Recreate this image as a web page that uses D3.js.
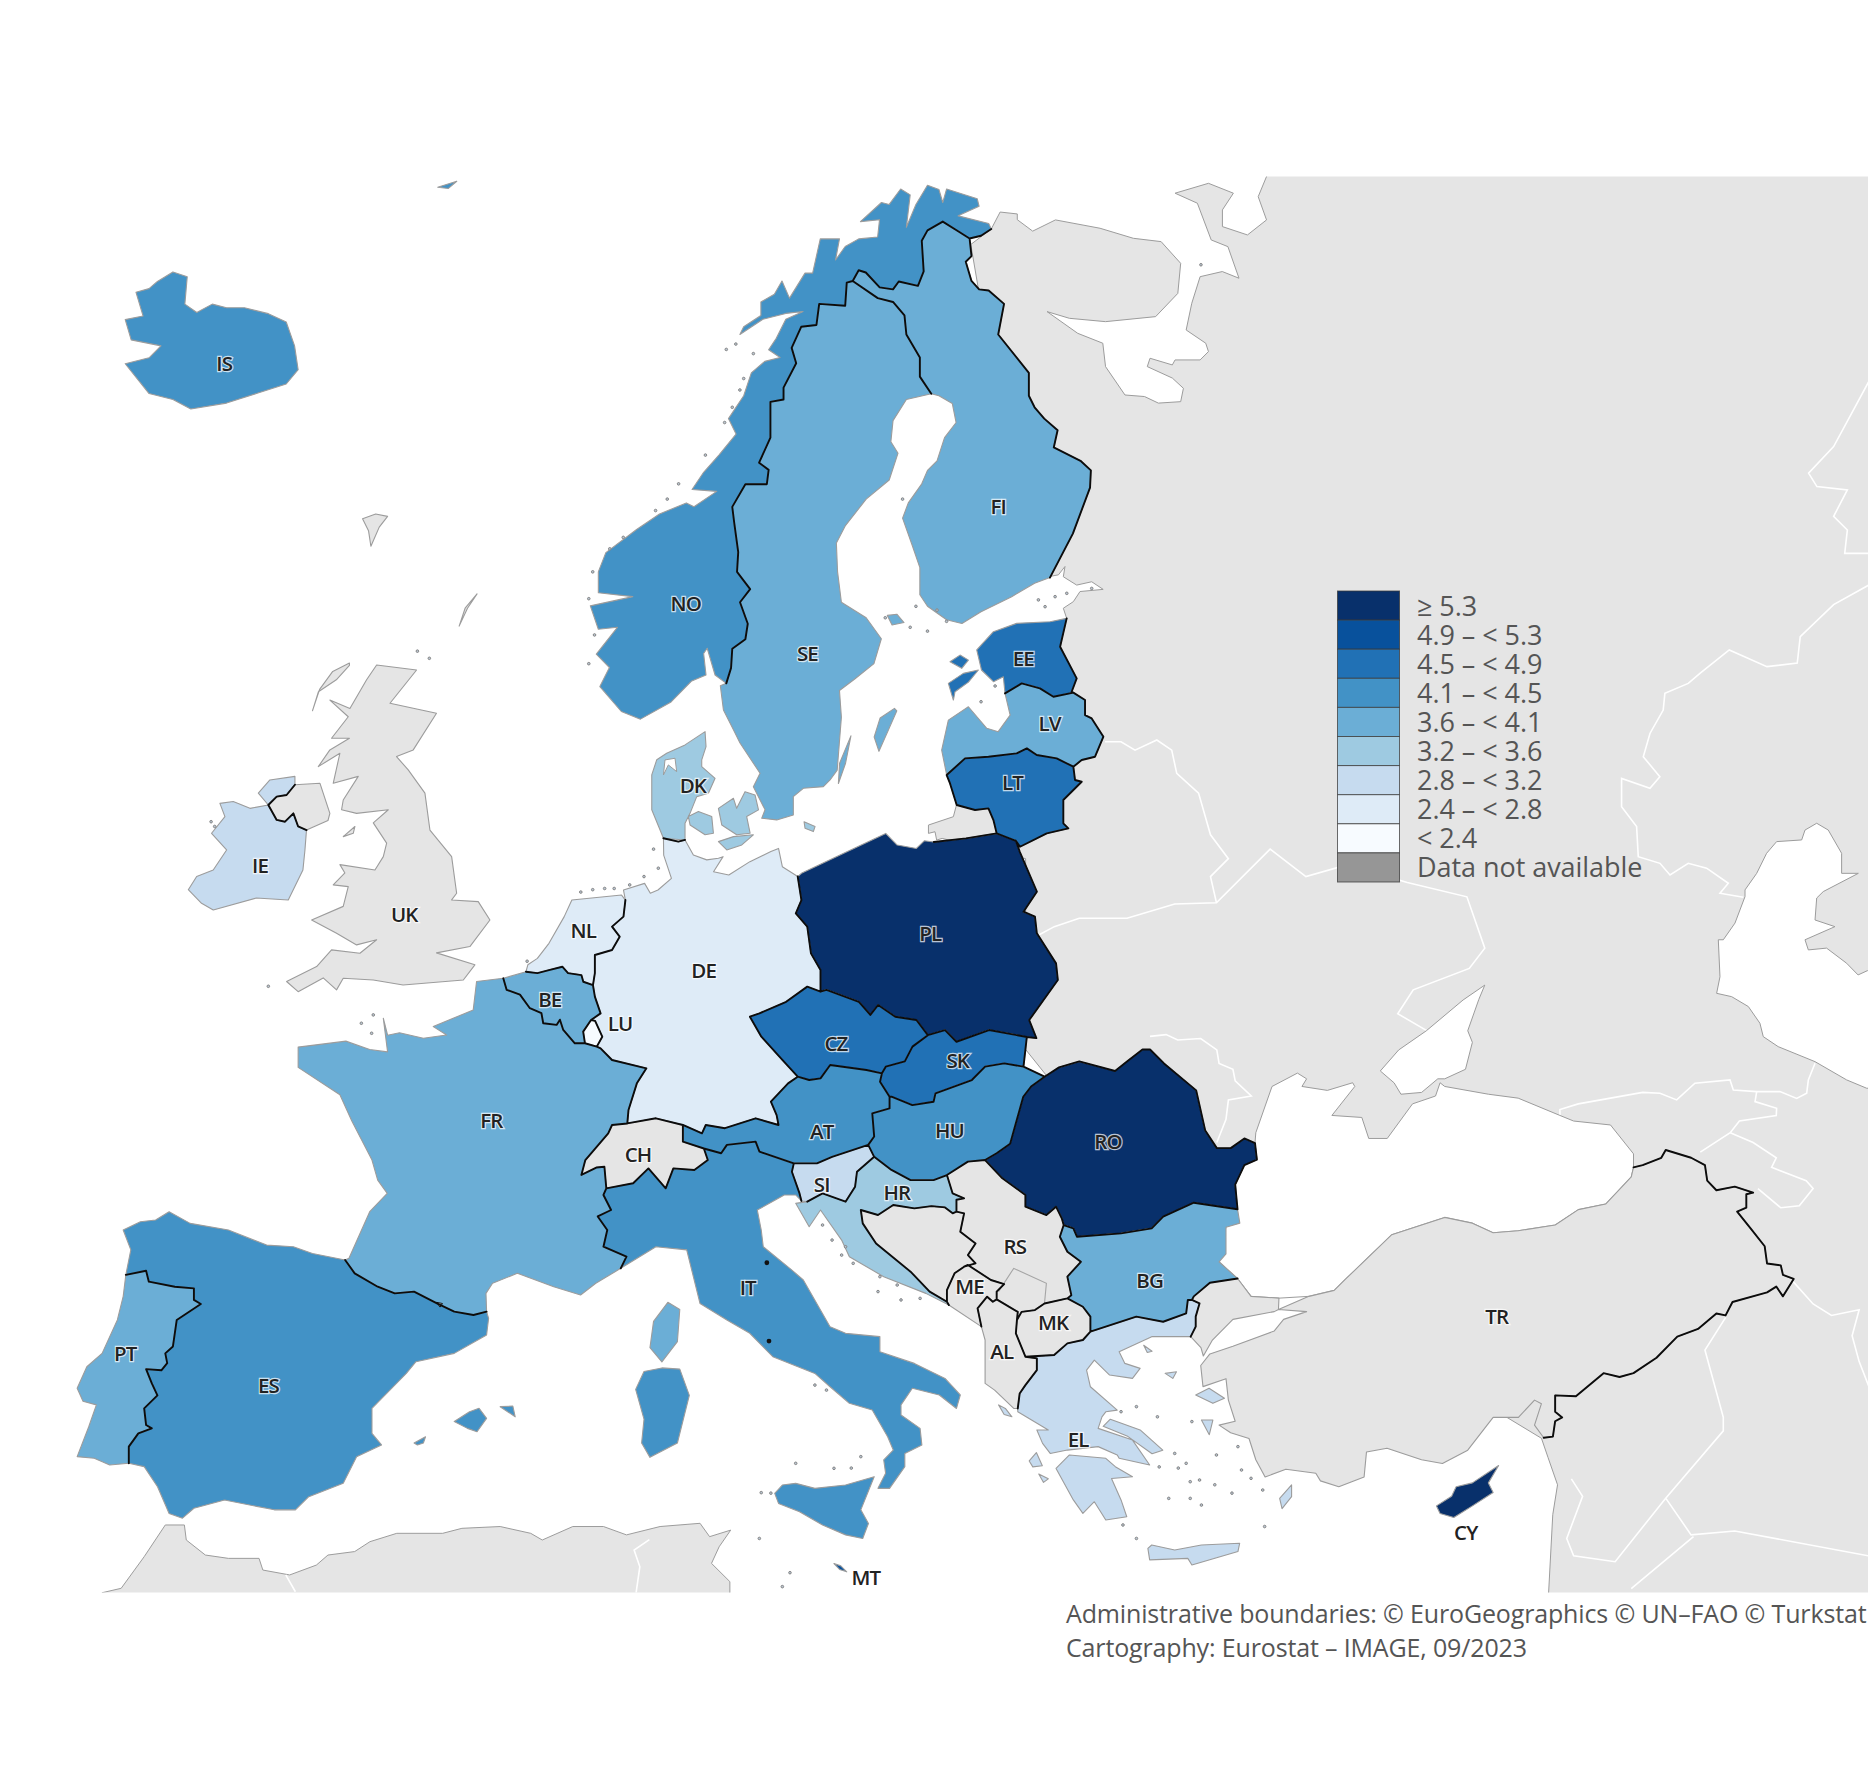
<!DOCTYPE html>
<html><head><meta charset="utf-8">
<script src="https://cdn.jsdelivr.net/npm/d3@7"></script>
<style>html,body{margin:0;padding:0;background:#fff}svg{display:block}</style>
</head><body><svg id="map" width="1870" height="1778"></svg>
<script>
// ---- chart values ----
const countryCodes = ["IS","NO","SE","FI","EE","LV","LT","DK","IE","NL","DE","BE","LU","PL","CZ","SK","FR","AT","HU","RO","SI","HR","BG","IT","PT","ES","EL","CY","MT"];
const countryValues = [4.3,4.3,3.9,3.9,4.7,3.9,4.7,3.4,3.0,2.6,2.6,3.9,2.2,5.6,4.7,4.7,3.9,4.3,4.3,5.6,3.0,3.4,3.9,4.3,3.9,4.3,3.0,5.6,5.1];
const noDataCodes = ["UK","CH","RS","BA","ME","MK","AL","TR"];
const classBreaks = [2.4,2.8,3.2,3.6,4.1,4.5,4.9,5.3];
const classColours = ["#f7fbff","#deebf7","#c6dbef","#9ecae1","#6baed6","#4292c6","#2171b5","#08519c","#08306b"];
const legendLabels = ["≥ 5.3","4.9 – < 5.3","4.5 – < 4.9","4.1 – < 4.5","3.6 – < 4.1","3.2 – < 3.6","2.8 – < 3.2","2.4 – < 2.8","< 2.4","Data not available"];
const legendColours = ["#08306b","#08519c","#2171b5","#4292c6","#6baed6","#9ecae1","#c6dbef","#deebf7","#f7fbff","#969696"];
const creditLines = ["Administrative boundaries: © EuroGeographics © UN–FAO © Turkstat","Cartography: Eurostat – IMAGE, 09/2023"];
const labelCodes = ["IS","NO","SE","FI","EE","LV","LT","DK","IE","UK","NL","DE","BE","LU","PL","CZ","SK","FR","AT","HU","RO","CH","SI","HR","RS","BG","ME","IT","MK","TR","PT","AL","ES","EL","CY","MT"];
const labelAnchors = [[188,305],[575,506],[677,548],[837,425],[858,552],[880,607],[849,656],[581,659],[218,726],[339,767],[489,780],[590,814],[461,838],[520,858],[780,783],[701,875],[803,889],[412,940],[689,949],[796,948],[929,957],[535,968],[689,993],[752,1000],[851,1045],[964,1074],[813,1079],[627,1080],[883,1109],[1255,1104],[105,1135],[840,1133],[225,1162],[904,1207],[1229,1285],[726,1323]];

// ---- map geometry, in planar map units (shared arcs) ----
const FR_ES=[[289.4,1056.5],[297.4,1067.7],[316.7,1078.9],[331,1084.5],[347.2,1083],[366.4,1092.9],[380.9,1099.8],[397,1102.6],[408,1099.8]];
const ES_PT=[[105.5,1069],[122.5,1065.5],[124.8,1074.7],[146.6,1078.9],[162.6,1080.3],[162.6,1090],[168.4,1093.4],[148.2,1106.8],[145,1129],[138.6,1134.8],[140.2,1143],[135.3,1149],[122.5,1148],[127.3,1160],[132,1170],[120.9,1180.9],[122.5,1194.9],[127.3,1197.7],[116,1201.9],[108,1213],[108,1227]];
const FR_BE=[[422,820.3],[424.8,830],[436,834],[444.3,845.4],[454,849.6],[455.5,858],[466.7,859.4],[469.5,855],[472.3,863.6],[482,874.8],[490.5,874.8]];
const FR_LU=[[490.5,874.8],[500.4,877.6]];
const BE_LU=[[495.6,855.3],[489,865],[490.5,874.8]];
const DE_LU=[[495.6,855.3],[499,856],[505,869.3],[500.4,877.6]];
const DE_BE=[[497.2,826],[498.8,835.7],[503.6,849.7],[495.6,855.3]];
const BE_NL=[[497.2,826],[489.1,823.2],[487.5,817.6],[476.3,816],[471.5,810.6],[460.3,813.4],[450.6,816],[441,814.8]];
const DE_NL=[[524.4,754.7],[522.8,768.6],[513.2,777],[519.6,785.4],[513.2,796.6],[498.8,800.8],[498.8,816],[497.2,826]];
const DE_FR=[[500.4,877.6],[503.6,879],[513.2,888.8],[542,895.8],[534,908.4],[527,930.7],[526,942]];
const DE_CH=[[526,942],[550,937.7],[572.6,943.3]];
const DE_AT=[[668.9,902.8],[660.8,908.4],[646.4,923.8],[651.2,935],[652.8,943.3],[633.6,937.7],[607.9,946],[591.8,943.3],[588.6,950.3],[572.6,943.3]];
const DE_CZ=[[688,831.5],[676.9,827.3],[659.2,840],[636.8,849.7],[628.8,852.5],[638.4,869.3],[656,888.8],[668.9,902.8]];
const DE_PL=[[668.9,735],[672,754.7],[667.3,765.9],[676.9,777],[680,799.4],[688,813.4],[688,831.5]];
const DE_DK=[[556.3,702.9],[568.8,705.7],[574.4,704.3]];
const FR_CH=[[526,942],[513.2,943.3],[510,950.3],[490.8,972.7],[487.5,985.2],[500,979],[506.8,978.3],[508.4,996.4]];
const FR_IT=[[508.4,996.4],[506,1002],[512.4,1014.6],[501.2,1020],[509.2,1031.4],[506,1045.4],[525.3,1053.7],[520.5,1063.5]];
const CH_IT=[[508.4,996.4],[530.9,992.2],[543.7,979.7],[558.2,996.4],[564.6,979.7],[582.2,981],[593.5,972.7],[590.2,963]];
const CH_AT=[[590.2,963],[572.6,957.3],[572.6,943.3]];
const AT_IT=[[590.2,963],[604.7,967],[609.5,960],[633.6,957.3],[636.8,965.7],[665.6,975.5]];
const AT_SI=[[665.6,975.5],[685,975.5],[697.7,970],[728,960]];
const HU_SI=[[728,960],[733,970]];
const SI_HR=[[733,970],[718.6,982.5],[717,995],[709,1007.6],[689.7,1000.7],[676.9,1007.6]];
const IT_SI=[[665.6,975.5],[664,982.5],[670.4,1000.7],[672,1007]];
const AT_HU=[[745.9,919.6],[745.9,929.4],[731.4,933.5],[733,953],[728,960]];
const AT_SK=[[745.9,919.6],[737.9,907],[739.5,900]];
const AT_CZ=[[739.5,900],[726.6,897.2],[696.1,893],[688,904.2],[678.5,905.6],[668.9,902.8]];
const CZ_SK=[[739.5,900],[742.7,894.4],[758.7,890],[765.1,877.6],[778,868]];
const CZ_PL=[[778,868],[768.4,855.3],[750.7,852.5],[736.3,842.7],[729.8,851],[720.2,840],[693,830],[688,831.5]];
const SK_PL=[[778,868],[792.4,863.7],[802,873.5],[829.3,863.7],[861,869.5]];
const SK_UA=[[861,869.5],[858.2,894.4]];
const HU_SK=[[858.2,894.4],[842,891.6],[826,894.4],[814.9,905.6],[784.4,916.8],[782.8,923.8],[765,926.6],[747.5,919.6],[745.9,919.6]];
const HU_UA=[[858.2,894.4],[875.9,902.8]];
const HU_RO=[[875.9,902.8],[864.6,911],[858,919.6],[847,959],[835.7,967],[826,972.7]];
const HU_RS=[[826,972.7],[811.6,974],[794,985.3]];
const HU_HR=[[794,985.3],[782.8,989.5],[763.5,989.5],[747.5,981],[733,970]];
const HR_RS=[[794,985.3],[798.8,1000.7],[808.4,1004.8],[802,1006],[802,1016]];
const HR_BA=[[802,1016],[798.8,1017.4],[792.4,1012.4],[781,1011.3],[766.7,1013.2],[749,1010.4],[736.2,1018.8],[721.8,1014.6],[723.4,1025.8],[734.6,1042.6],[763.5,1066.3],[779.5,1083],[794,1091.5]];
const HR_ME=[[794,1091.5],[795.6,1094.3]];
const BA_RS=[[802,1016],[808.4,1017.4],[805.2,1032.8],[818,1042.6],[811.6,1052.4],[818,1059.3],[808.4,1062.1]];
const BA_ME=[[808.4,1062.1],[800.4,1067.7],[794,1081.7],[794,1091.5]];
const ME_RS=[[808.4,1062.1],[811.6,1060.7],[830.9,1073.3],[842,1076.7],[835.7,1083],[835.7,1089.5]];
const ME_AL=[[835.7,1089.5],[832.5,1091.5],[827.7,1087.3],[819.7,1097],[822.9,1112.4]];
const AL_RS=[[835.7,1089.5],[853.4,1100],[852.7,1106.9]];
const AL_MK=[[852.7,1106.9],[851.8,1118],[859.8,1137.6]];
const AL_EL=[[859.8,1137.6],[869.4,1139],[869.4,1148.8],[859.8,1161.4],[855,1168.4],[853.4,1181]];
const MK_RS=[[852.7,1106.9],[856.6,1100],[867.8,1098.5],[875.8,1093],[895,1088.7]];
const MK_BG=[[895,1088.7],[908,1095.7],[914.3,1104],[914.3,1116.6]];
const MK_EL=[[859.8,1137.6],[883.9,1136.2],[895,1126.4],[908,1123.6],[914.3,1116.6]];
const BG_RS=[[895,1088.7],[898.3,1086],[895,1070.5],[906.3,1058],[895,1049.6],[888.7,1037],[891.9,1027.2]];
const BG_RO=[[1037.7,1014],[1001,1008.5],[975.3,1020.2],[965.7,1030],[940,1034.2],[903,1037],[900,1030],[891.9,1027.2]];
const RO_RS=[[891.9,1027.2],[890.3,1021.6],[885.5,1011.8],[877.4,1018.8],[859.8,1011.8],[859.8,1002],[840.5,988],[826,972.7]];
const BG_EL=[[914.3,1116.6],[952.8,1104],[975.3,1108.3],[994.6,1101.3],[996,1090],[999.4,1090]];
const BG_TR=[[999.4,1090],[1001,1087],[1014.5,1075.6],[1037.7,1072]];
const EL_TR=[[999.4,1090],[1005.8,1092.9],[1002.6,1104],[1002.6,1112.4],[998.4,1120.8]];
const PL_RU=[[783,706],[810,703],[835.7,698.8]];
const PL_LT=[[835.7,698.8],[851.8,705]];
const PL_E=[[851.8,705],[855,714],[869.4,747.7],[858.2,764.5],[867.8,768.6],[869.4,782.6],[885.5,807.8],[887,821.7],[863,855.3],[869,870.5],[861,869.5]];
const LT_LV=[[793.8,649.9],[809.2,635.9],[828.8,634.5],[852.5,631.7],[861,627.5],[869.3,633.1],[886,635.9],[900,642.9]];
const LT_E=[[900,642.9],[901.4,654],[907,655.5],[891.6,670.8],[891.6,690.4],[895.8,694.6],[877.7,698.8],[855.3,710],[851.8,705]];
const LT_RU=[[835.7,698.8],[833,687.6],[828.8,677.8],[817.6,679.2],[802.2,675],[796.6,656.9],[793.8,649.9]];
const EE_LV=[[842.7,581.4],[856.7,573],[872,577.2],[883.3,584.2],[900,580.8]];
const LV_E=[[900,580.8],[909.8,587],[909.8,599.6],[915.4,602.4],[925.2,617.7],[918.2,634.5],[907,637.3],[900,642.9]];
const EE_E=[[894.4,518.5],[888.9,542.3],[902.8,568.8],[898.6,580],[900,580.8]];
const NO_SE=[[609,573],[613,560],[614,544],[625,536],[627,523],[620.5,505],[629,494],[618,479.5],[619,463],[615.6,438],[614,425],[625,406],[643,406],[644.5,394],[636.5,388],[646,367],[646,337],[657,335],[657,325],[667.6,304.6],[663.8,291.7],[671.8,274],[684.6,272.5],[686.9,254.8],[708.7,256.4],[710,237],[715,235.6]];
const NO_FI=[[715,235.6],[720,226.6],[726,228.5],[737.6,241],[748.8,242.6],[753.6,236],[769.7,239.7],[774.5,227.5],[772.9,201.9],[777.7,193.2],[790.5,185.8],[803.4,193.9],[813,200]];
const NO_RU=[[813,200],[822.6,197.7],[831.2,192]];
const SE_FI=[[715,235.6],[736,250],[748.8,253.2],[758.4,264.5],[760,280.5],[771.3,299.8],[771.3,315.8],[780.9,330.2]];
const FI_RU=[[813,200],[814.6,214.7],[809.8,219.5],[814.6,235.6],[821,242.6],[829,243.6],[841.9,254.8],[837,280.5],[862.7,312.6],[862.7,331.8],[867.5,341.5],[875.6,351],[886.8,360.7],[883.6,375.2],[906,386.4],[914.7,394.4],[914,408.9],[899.6,447.4],[880.4,484.3]];
const IE_UK=[[247.3,658],[240.3,666.6],[232,668],[225,675],[232,687.5],[239,689],[246,682],[250,693],[257,696]];
const TR_E=[[1369.7,978.8],[1377.4,977],[1393,970.8],[1396.7,964.3],[1418,970.8],[1429.6,977],[1431.5,990],[1439.2,998],[1454.6,995],[1470,1000],[1464.3,1001.4],[1464.3,1012.7],[1456.6,1016],[1468.2,1030.4],[1479.7,1045],[1481.7,1059.5],[1493.2,1061],[1495,1069],[1504,1072.4],[1495,1087],[1489.4,1078.8],[1481.7,1083.7],[1452.7,1091.7],[1446.9,1103],[1439.2,1101.4],[1423.8,1114.3],[1406.4,1120.8],[1389,1138.5],[1369.7,1151.4],[1358,1154.6],[1344.6,1151.4],[1321.4,1170.8],[1304,1170],[1304,1183.7],[1309.9,1188.5],[1304,1191.7],[1302.1,1204.6],[1294.4,1205.6]];

// coasts
const FR_coastN=[[422,820.3],[399.6,823],[396.8,846.8],[363.3,860.8],[374.5,867.8],[355,870.6],[335,866],[325,868],[321.4,853.8],[325,882],[310,880],[290,873],[250,878],[250,895],[285,918],[295,940],[311.9,972.7],[316.7,989.5],[324.7,1000.6],[310,1016],[292.6,1055],[289.4,1056.5]];
const FR_med=[[408,1099.8],[407.5,1084.5],[413,1076],[433.8,1067.7],[464.3,1079],[486.8,1085.9],[499.6,1076],[520.5,1063.5]];
const ES_coastN=[[105.5,1069],[109.7,1048],[103.3,1031.4],[117.7,1024.4],[130.5,1023],[141.8,1016],[159.4,1025.8],[191.5,1031.4],[223.6,1044],[246,1045.4],[262,1051],[289.4,1056.5]];
const ES_med=[[408,1099.8],[409.7,1105.4],[408,1119.4],[380.9,1134.8],[348.8,1141.8],[340.7,1151.6],[311.9,1180.9],[311.9,1201.9],[319.9,1211.6],[299,1221.4],[287.8,1243.8],[258.9,1255],[247.7,1266],[230,1266],[188.3,1257.8],[162.6,1264.7],[153,1273],[141.8,1269],[132.1,1246.6],[120.9,1229.8],[108,1227]];
const PT_coast=[[108,1227],[92,1228.4],[79,1222.8],[64.7,1221.4],[74.4,1196.3],[80.8,1178],[69.6,1175],[64.7,1164],[72.8,1146],[85.6,1134.8],[98.4,1106.8],[103.3,1087],[105.5,1069]];
const BE_coast=[[441,814.8],[422,820.3]];
const NL_coast=[[524.4,754.7],[521.2,750.5],[479.5,754.7],[473.1,768.6],[460.3,791],[450.6,803.6],[442.6,809],[441,814.8]];
const DE_coastW=[[524.4,754.7],[522.8,746.3],[540.5,740.7],[545.3,749],[551.7,746.3],[563,736.5],[556.5,717],[556.3,702.9]];
const DE_coastE=[[574.4,704.3],[581.4,716.9],[592.6,721],[602.4,719.7],[606.3,718.3],[598.3,731],[611.1,733.7],[628.8,722.5],[646.4,714],[652.8,711.4],[656,726.7],[668.9,735]];
const PL_coast=[[668.9,735],[672,732.3],[710.6,714],[742.7,698.8],[752.3,708.6],[768.4,711.4],[775,705],[783,706]];
const IT_coast=[[520.5,1063.5],[550,1045.4],[575.8,1048],[587,1093],[609.5,1106.9],[628.7,1118],[648,1137.6],[683.3,1151.6],[696,1162.8],[712.2,1176.7],[731.4,1182.3],[744.3,1204.7],[749,1215.9],[741,1224.2],[742.6,1235.4],[736.2,1248],[745.9,1248],[758.7,1229.8],[758.7,1218.7],[773,1211.7],[771.5,1197.7],[755.5,1186.5],[755.5,1178],[765,1164],[787.6,1169.7],[802,1181],[805.2,1169.7],[792.4,1155.8],[766.7,1143.2],[737.8,1133.4],[737.8,1120.8],[709,1118],[696,1112.4],[673.6,1073.3],[664,1065],[640,1045.4],[638.3,1031.4],[635,1014.6],[657.6,1002],[667.2,1002],[672,1007]];
const HR_coast=[[676.9,1007.6],[667.2,1009],[678.5,1028.6],[688,1014.6],[705.7,1039.8],[712.2,1053.8],[741,1070.5],[776.3,1084.5],[795.6,1094.3]];
const LV_coast=[[793.8,649.9],[789.6,628.9],[795.2,603.8],[812,592.6],[827.4,610.7],[837,613.5],[847,599.6],[842.7,581.4]];
const EE_coast=[[842.7,581.4],[841.3,567.4],[833,571.6],[823,561.8],[819,545],[833,529.7],[852.5,522.7],[880.5,521.3],[894.4,518.5]];
const NO_coast=[[609,573],[599.6,566],[593,543.6],[590,548],[592,566],[580,571],[562.7,588.6],[537,603],[521,596.6],[503,575.7],[511,559.7],[500,548.5],[517.7,526],[501.7,527.6],[495,508],[530.6,500.3],[501.7,497],[501.7,479.5],[508,463.4],[533.8,444],[553,431],[575.5,421.7],[581.9,424.9],[601,412],[580.3,410.5],[590,396],[602.8,381.6],[617.2,364],[610.8,351],[623.6,331.8],[630,312.6],[641.3,303],[654.1,299.8],[644.5,293.3],[650.9,283.7],[658.9,267.7],[673.4,261.2],[658.9,262.8],[639.7,267.7],[620.4,280.5],[623.6,274],[638,264.5],[638,253.2],[649.3,246.8],[655.7,235.6],[662,250],[675,229],[681.4,229],[687.8,200.3],[703.9,200.3],[700.6,218],[708.7,206.7],[720,200.3],[735.9,198.7],[737.5,184.2],[721.5,185.8],[739.1,169.8],[745.6,171.4],[755.2,158.5],[763.2,163.4],[760,190.6],[768,171.4],[777.7,155.3],[787.3,158.9],[790.5,169.8],[793.7,158.5],[819.4,166.6],[821,173],[803.4,181],[829,187.4],[831.2,192]];
const SE_coast=[[609,573],[604,575],[606.6,595.3],[615,612],[620.5,623],[637.3,648.4],[631.7,659.6],[641.5,679],[638.7,686.1],[651.3,687.5],[665.2,683.3],[665.2,668],[673.6,661],[690.4,659.6],[696,654],[702,645.7],[705.5,601.4],[703.9,579],[716.7,569.3],[732.8,556.5],[739,535.6],[726.3,518],[705.5,505],[702.3,479.5],[701.3,455.4],[708.7,441],[726.3,418.5],[745.6,402.5],[753,380],[747,370.4],[748.8,352.7],[760,335],[780.9,330.2]];
const FI_coast=[[780.9,330.2],[787.3,331.8],[798.5,338.3],[801.7,354.3],[792,367],[785.7,386.4],[777.7,394.4],[772.9,405.7],[761.6,421.7],[756.8,434.5],[764.8,457],[771.3,476],[771.3,498.7],[777.7,508.4],[793.7,519.6],[806.6,522.8],[822.6,513],[848.3,500.3],[867.5,489],[880.4,484.3]];
const BG_coast=[[1037.7,1014],[1039.6,1025.6],[1028,1029],[1028,1051.4],[1022.2,1058],[1037.7,1072]];
const RO_N=[[875.9,902.8],[888,895],[905,890],[935,898],[945,890],[958,880],[964.3,880],[976,891.7],[1003,914.3],[1010.6,948],[1020.3,962.7],[1032,962.7],[1043.4,954.6],[1052.3,958.5],[1053.9,972.4],[1043.4,977],[1035.7,993.3],[1037.7,1014]];
const AL_coast=[[853.4,1181],[850,1181],[834,1165.6],[826,1160],[826,1123.6],[822.9,1112.4]];
const ME_coast=[[822.9,1112.4],[795.6,1094.3]];
const EL_coast=[[998.4,1120.8],[965.7,1120.8],[938.4,1133.4],[943.2,1143.2],[956,1147.4],[949.6,1155.8],[930.4,1153],[917.6,1140.4],[911.1,1148.8],[914.3,1162.8],[936.8,1182.4],[927.2,1183.8],[924,1188],[920.8,1197.7],[949.6,1207.5],[964,1228.4],[938.4,1222.8],[936.8,1220],[920.8,1213],[895,1215.9],[880.6,1218.7],[874.2,1210.3],[869.4,1199],[879,1199],[853.4,1183.7],[853.4,1181]];
const TR_coastN=[[1072,1098],[1097.5,1087],[1118.7,1082],[1128.4,1072.4],[1167,1035.3],[1211.4,1020.8],[1234.6,1025.6],[1252,1033.7],[1273,1032],[1304,1027.2],[1323.4,1014.3],[1346.5,1009.5],[1367.8,986.9],[1369.7,978.8]];
const TR_coastS=[[1294.4,1205.6],[1286.7,1195],[1292.5,1177],[1286.7,1174],[1273.2,1188.5],[1252,1188.5],[1230.7,1216],[1209.5,1227.2],[1192,1224],[1163,1214.3],[1145.8,1217.5],[1143.8,1238.5],[1122.6,1246.6],[1107.2,1241.7],[1103.3,1235.3],[1078.2,1232],[1060.8,1238.5],[1053,1224],[1047.3,1206.2],[1031.9,1201.4],[1022.2,1195],[1035.7,1191.7],[1030,1174],[1028,1156],[1008.7,1162.7],[1006.8,1145],[1014.5,1135.3],[1033.8,1128.8],[1068.5,1116],[1076.3,1106.3],[1095.6,1099.8],[1072,1098]];
const TR_thrace=[[1037.7,1072],[1049,1087],[1072.4,1088.5],[1072,1098],[1068.5,1099.8],[1033.8,1106.3],[1016.4,1124],[1009,1137],[1007,1130],[998.4,1120.8]];
const IE_coast=[[257,696],[255.7,712.7],[254,729.5],[241.7,754.6],[215,753],[178.8,763],[169,757.4],[157.9,746],[164.9,735],[178.8,729.5],[190,712.7],[177.4,698.7],[188.6,684.7],[184.4,673.6],[195.6,672],[209.6,677.8],[225,675],[216.6,665],[226.3,654],[247.3,651],[247.3,658]];
const NI_coast=[[257,696],[275,688],[276.6,682],[268.3,656.8],[247.3,658]];

// islands
const iceland=[[105,268],[120,265],[114,245],[125,242],[132,236],[145,228],[157,232],[155,255],[165,262],[178,255],[190,258],[205,258],[225,263],[240,270],[247,290],[250,310],[240,322],[215,330],[190,338],[160,343],[145,335],[125,330],[105,305],[125,300],[135,290],[110,285]];
const janMayen=[[367,157],[383,152],[376,158]];
const mallorca=[[380.9,1192],[393.7,1183.7],[401.7,1180.9],[408,1189.3],[400,1200.5],[392,1197.7]];
const menorca=[[419.4,1179.5],[432,1188],[430,1179]];
const ibiza=[[347.2,1210],[356.8,1204.7],[355,1210],[350,1211.6]];
const corsica=[[560,1092],[570,1098],[568,1125],[555,1142],[545,1130],[548,1108]];
const sardinia=[[540,1150],[555,1147],[570,1148],[578,1170],[568,1210],[545,1222],[538,1210],[540,1190],[533,1165]];
const sicily=[[649.6,1252.2],[656,1245.2],[667.2,1243.8],[683.3,1248],[709,1245.2],[733,1238.2],[721.8,1266],[728.2,1277.4],[723.4,1290],[709,1287],[689.7,1278.7],[670.4,1267.6],[652.8,1260.6]];
const malta=[[699.3,1311],[705,1313],[710,1318],[704,1316]];
const cyprus=[[1204.5,1262.7],[1217.2,1254.6],[1221,1246.6],[1234.6,1243.4],[1256.6,1228.8],[1248,1243.4],[1252,1251.4],[1234.6,1262.7],[1219,1272.4],[1207.5,1269]];
const gotland=[[750,594],[738,602],[733,618],[737,630],[745,612],[752,596]];
const oland=[[713.5,617],[709,640],[703,657],[704,640]];
const aland=[[744,516],[752,515],[758,522],[748,524]];
const saaremaa=[[795.2,573],[807.8,564.6],[820.4,561.8],[812,572],[800.8,580],[799.4,587]];
const hiiumaa=[[796.6,554.9],[805,549.3],[812,553.5],[806.4,560.4]];
const jutland=[[556.3,702.9],[546.5,679],[546.5,649.8],[550.7,637],[559,631.6],[574.4,624.6],[591.2,613.5],[592,626],[588.4,637.2],[588.4,642.8],[599.6,652.6],[594,665.2],[584.2,668],[578.6,682],[574.4,690.3],[574.4,704.3]];
const funen=[[577.2,684.7],[585.6,680.5],[596.8,684.7],[598.2,698.7],[591.2,700],[578.6,691.7]];
const zealand=[[602.4,677.8],[615,669.4],[617.7,677.8],[624.7,663.8],[633.1,666.6],[636,679.1],[626.1,684.7],[629,698.7],[617.7,700],[605.2,691.7]];
const lolland=[[602.4,705.7],[615,701.5],[631.7,700],[622,708.5],[609.4,712.7]];
const bornholm=[[674.2,689],[683.4,693.1],[682,697.3],[675,694.5]];
const peloponnese=[[885.5,1231.3],[896.7,1220],[927.2,1222.8],[935.2,1229.8],[949.6,1238.2],[932,1239.7],[940,1257.7],[944.8,1271.8],[927.2,1274.5],[917.6,1259.2],[908,1269],[900,1257.7]];
const evia=[[931,1190],[956,1199],[975,1216],[966,1219],[945,1204],[925,1196]];
const crete=[[962.5,1298.3],[965.7,1295.5],[985,1299.7],[1007.4,1295.5],[1039.5,1294],[1038,1301],[999.4,1312.3],[996,1306.7],[964,1308]];
const lesvos=[[1002.6,1169.7],[1013.8,1164],[1026.7,1172.5],[1017,1176.7]];
const chios=[[1007.4,1190.7],[1017,1190.7],[1014,1203]];
const rhodes=[[1073,1256.4],[1083,1245],[1083,1255],[1075,1265]];
const limnos=[[977,1151.6],[986.5,1150.2],[983.4,1155.8]];
const corfu=[[837.3,1178],[843,1181],[848.5,1188],[842,1186]];
const kefalonia=[[863,1225],[869,1218],[874,1229],[866,1230]];
const zakynthos=[[871,1236],[879,1240],[875,1243]];
const thasos=[[959,1128],[966,1133],[962,1134]];
const gbMain=[[315.8,557.6],[349.3,561.8],[327,589.7],[366,598],[346.5,628.8],[332.5,634.4],[342.3,645.6],[356.3,665],[360.5,696],[378.7,718.3],[382.9,749],[378.7,754.6],[401,756],[410.8,771.4],[394,793.7],[366,799],[398.2,809],[388.5,821.7],[338,825.9],[313,821.7],[287.8,820.3],[282.2,830],[271,820],[250,831.5],[240.3,823],[265.5,810.5],[278,796.5],[301.8,799.3],[315.8,788],[299,792.3],[282.2,782.6],[261.3,771.4],[287.8,760],[292,743.4],[279.4,742],[289.2,732],[285,725],[314.4,729.5],[321.4,718.3],[324.2,707],[313,690],[325.6,679],[299,682],[286.4,679],[287.8,670.8],[300.4,651],[279.4,656.8],[285,631.6],[266.9,642.8],[276.6,628.8],[293,619],[278,619],[292,601],[276.6,587],[293.4,594],[307.4,570]];
const hebrides=[[293,556],[279,563],[268,578],[262,596],[267,580],[282,570],[293,558]];
const isleOfMan=[[287.8,701.5],[297.6,693],[296.2,698.7]];
const shetland=[[400,498],[392,510],[385,525],[390,510]];
const faroe=[[304,435],[315,431],[325,433],[318,442],[311,458],[309,445]];
const limfjord=[[557.6,637.2],[566,635.8],[567.4,647],[560.4,641.4],[556.3,649.8]];

// neighbouring land and seas
const eastLand=[[831.2,192],[838.6,177.8],[853,179.4],[853,184.2],[865.9,193.8],[885,184.4],[922.4,191.4],[950.3,199.8],[973.6,202.6],[990,220.8],[987.6,246],[969,265.5],[927,269.7],[896.7,266.9],[878,261.3],[903.7,279.5],[924.7,287.8],[927,307.4],[943.3,331.2],[959.7,332.5],[971.3,338],[990,336.8],[992.3,325.6],[983,317],[962,307.4],[964.3,300.4],[983,306],[985.3,301.8],[1006.3,301.8],[1013.3,294.8],[1011,287.8],[994.6,276.7],[999.3,254.3],[1006.3,232],[1024.9,227.7],[1038.9,233.3],[1029.6,206.8],[1015.6,201.2],[1004,170.4],[985.3,162],[1013.3,153.7],[1034.2,162],[1025,176],[1025,190],[1046,197],[1062,184.4],[1055,164.9],[1062,148],[1062,140],[1600,140],[1600,1345],[1298,1345],[1302,1270],[1306,1245],[1298,1222],[1292.5,1206],[1200,1150],[1150,1060],[1060,1040],[1000,1000],[880,905],[860,880],[860,780],[860,720],[790,703],[785.4,704.4],[784,697.4],[778.5,698.8],[778.5,691.8],[799.4,684.8],[802,675],[820,660],[880,620],[885,540],[894.4,518.5],[891.6,510],[900,504.5],[905.6,496],[925,494.2],[915.4,487.8],[902.8,490.6],[891.6,483.6],[893,475],[887.5,482],[879,483.6],[870,420],[820,240],[814,205]];
const northAfrica=[[85.6,1345],[85.6,1335.5],[101.6,1331.8],[120.9,1305.3],[138.6,1278.7],[154.6,1278.7],[156.2,1291.3],[172.2,1303.9],[191.5,1306.7],[217.2,1306.7],[220.4,1316.5],[242.9,1320.6],[265.3,1312.3],[275,1303.9],[297.4,1301],[310.2,1292.7],[332.7,1285.7],[371.2,1285.7],[387.3,1281.5],[419.4,1280],[445,1285.7],[454.7,1291.3],[480.3,1280],[506,1280],[525.3,1287],[553.5,1280],[587,1277.3],[595,1288.5],[612.7,1283],[603,1297],[596.6,1310.9],[612,1326.2],[612,1345]];
const blackSea=[[1052.3,958.5],[1053,949.8],[1066.6,911],[1087.9,899.8],[1095.6,904.6],[1091.7,911],[1113,914.3],[1134.2,907.9],[1136,911],[1116.8,935.3],[1141.9,937],[1147.7,954.6],[1163.2,954.6],[1184.4,925.6],[1203.7,919],[1207.5,907.9],[1211.4,911],[1248,917.5],[1273,920.8],[1308,935.3],[1319.5,940],[1350.4,943.3],[1369.7,967.5],[1369.7,978.8],[1367.8,986.9],[1346.5,1009.5],[1323.4,1014.3],[1304,1027.2],[1273,1032],[1252,1033.7],[1234.6,1025.6],[1211.4,1020.8],[1167,1035.3],[1128.4,1072.4],[1118.7,1082],[1097.5,1087],[1072.4,1088.5],[1049.2,1087],[1037.7,1072],[1022,1058],[1028,1029],[1037,1014],[1036,993],[1043,977],[1054,972]];
const azovSea=[[1157.4,898],[1172.8,880.4],[1196,864.3],[1226.8,838.5],[1245,826],[1240,838],[1230.7,864.3],[1234.6,874],[1228.8,896.6],[1211.4,904.6],[1205.6,904.6],[1192,916],[1174.7,917.5],[1169,908]];
const caspianSea=[[1600,813.9],[1565.8,813.9],[1558,817.5],[1548.4,807.7],[1531.6,795],[1516.3,796.5],[1513.5,788],[1538.6,777],[1521.9,771.4],[1523.3,753],[1528.8,747.6],[1558.2,732.3],[1544.2,732.3],[1544.2,715.5],[1533,696],[1523.3,690.3],[1513.5,696],[1510.7,704.3],[1489.7,705.7],[1481.3,715.5],[1473,732.3],[1463.2,746.2],[1463.2,751.8],[1454.8,774],[1445,788],[1440.8,788],[1442.2,819],[1439.4,832.9],[1452,835.7],[1466,844],[1475.7,858],[1478.5,869.2],[1491,877.6],[1521.9,890.2],[1548.4,905.5],[1565.2,912.5],[1600,912.5]];

// white lines between non-mapped countries
const outsideBorders=[
 [[926.6,622],[940,622],[951.7,629],[970,620.5],[982.5,629],[986.7,648.5],[1005,665],[1015,700],[1030,720],[1015,735],[1020,757]],
 [[871,784],[884,777],[905,770],[945,770],[985,758],[1020,757],[1065,712],[1095,735],[1130,725],[1180,740],[1230,752],[1245,795],[1232,812],[1185,830],[1172,850],[1196,864]],
 [[964.3,869],[977.8,867.5],[987.5,872],[1006.8,870.8],[1020.3,880.4],[1022.2,891.7],[1033.8,896.6],[1035.7,906.2],[1049.2,919],[1030,922.4],[1028,938.5],[1020.3,958]],
 [[1568,490],[1537.5,507],[1509.5,533.8],[1507,556],[1481.6,559],[1450,545],[1425.4,564.6],[1415.6,573],[1396,581.4],[1394.6,595.4],[1383.5,615],[1377.9,634.5],[1391.8,651.3],[1383.5,661],[1359.7,652.7],[1359.7,676.4],[1372.3,693],[1373.7,718.4],[1391.9,723.9],[1400.3,733.7],[1415.6,723.9],[1431,728],[1449.2,740.6],[1442.2,749],[1461.8,752.4]],
 [[1568,318],[1537.5,374.5],[1516.5,396.8],[1523.5,408],[1549,410.8],[1537.5,433],[1549,444.4],[1546.8,464],[1568,464]],
 [[1308,935.3],[1308,930.4],[1323.4,925.6],[1377.4,916],[1391.9,916.7],[1405.9,922.3],[1421.2,908.3],[1450.6,905.5],[1453.4,914],[1473,915.3],[1492.5,915.3],[1506.5,921],[1514.9,916.7],[1516.3,905.5],[1521.9,891.6]],
 [[1473,915.3],[1471.6,923.7],[1489.7,929.3],[1489.4,935.3],[1458.5,940],[1450.8,949.8],[1425.7,966]],
 [[1450.8,949.8],[1470,958],[1489.4,970.8],[1485.5,978.8],[1514.5,990],[1520.3,996.6],[1508.7,1011],[1493.2,1012.7],[1474,996.6]],
 [[1503,1074],[1520.3,1093.4],[1535.7,1103],[1558.9,1098.2],[1553,1120],[1558.9,1141.7],[1568,1165]],
 [[1447,1104.6],[1429.6,1132],[1445,1188.5],[1445,1199.8],[1396.7,1256.2],[1354.3,1309.5],[1319.5,1304.6],[1313.7,1290],[1327,1254.6],[1317.6,1240]],
 [[1396.7,1256.2],[1418,1287],[1454.6,1283.7],[1566.6,1304.6]],
 [[1420,1288.5],[1367.8,1332]],
 [[239.6,1320.6],[247.7,1334.7]],
 [[544.5,1291],[531.7,1299.7],[536.5,1313.7],[533.3,1336]]
];
const kosovoLine=[[837.3,1083],[850,1063.5],[877.4,1076],[875.8,1093]];
const enclaveDots=[[643,1058.8],[644.8,1124.5]];
const andorra=[[366,1092],[371,1093],[369,1096]];
const smallIslands=[[972,1230],[988,1231],[998,1242.4],[1005.8,1241],[1018.6,1245],[1033,1252],[980,1256.4],[998,1256.4],[1007.4,1262],[1041,1232.6],[1049,1239.6],[1058.8,1249.4],[1060.4,1280],[952.9,1290],[941.6,1278.7],[970.5,1188],[952.9,1179.5],[940,1183.7],[999.4,1192],[1020,1220],[1038,1213],[994.6,1227],[985,1218.7],[609,293],[617,288.5],[631.7,296.5],[623.6,317.4],[614,341.5],[607.6,354.3],[620.4,327],[591.5,381.6],[569,405.7],[559.5,418.5],[549.7,428.1],[522.6,450.6],[511.3,460.2],[497,479.5],[493.7,502],[498.5,532.4],[493.7,556.5],[768,508.4],[785.7,511.6],[763.2,526],[777.7,529.2],[793.7,521],[742.3,518],[756.8,418.5],[870.7,503],[884.7,500.3],[876.3,508.7],[894.5,497.5],[915.4,493.4],[834.4,575.2],[822.6,588.4],[705.7,1052.4],[715.4,1059.3],[737.8,1070.5],[752.3,1077.5],[736.2,1083],[755.5,1090],[771.5,1088.7],[689.7,1027.2],[697.7,1039.8],[709,1045.4],[683.3,1161.4],[693,1165.6],[667.2,1227],[699.3,1231.2],[713.8,1231],[721.8,1221.4],[636.7,1290],[662.4,1318.7],[656,1330.4],[638.3,1251.6],[646.4,1252],[1007,222],[350,546],[360,552],[487,748],[497,746],[507,745],[515,745],[528,742],[540,735],[552,728],[548,712],[442,806],[303,858],[313,851],[311.6,866.4],[225,827],[177,689],[180,693]];

// ---- assembling ----
const rev=a=>a.slice().reverse();
const ring=(...parts)=>{const r=[].concat(...parts);r.push(r[0]);return r;};
const closed=a=>ring(a);
const shapes={
 IS:[closed(iceland)],
 NO:[ring(NO_SE,NO_FI,NO_RU,rev(NO_coast)),closed(janMayen)],
 SE:[ring(rev(NO_SE),SE_coast,rev(SE_FI)),closed(gotland),closed(oland)],
 FI:[ring(SE_FI,FI_coast,rev(FI_RU),rev(NO_FI)),closed(aland)],
 EE:[ring(EE_coast,EE_E,rev(EE_LV)),closed(saaremaa),closed(hiiumaa)],
 LV:[ring(LV_coast,EE_LV,LV_E,rev(LT_LV))],
 LT:[ring(LT_LV,LT_E,rev(PL_LT),LT_RU)],
 DK:[closed(jutland),closed(funen),closed(zealand),closed(lolland),closed(bornholm)],
 IE:[ring(IE_UK,IE_coast)],
 UK:[closed(gbMain),ring(rev(IE_UK),rev(NI_coast)),closed(hebrides),closed(isleOfMan),closed(shetland),closed(faroe)],
 NL:[ring(NL_coast,rev(BE_NL),rev(DE_NL))],
 DE:[ring(DE_coastW,DE_DK,DE_coastE,DE_PL,DE_CZ,DE_AT,rev(DE_CH),rev(DE_FR),rev(DE_LU),rev(DE_BE),rev(DE_NL))],
 BE:[ring(BE_coast,FR_BE,rev(BE_LU),rev(DE_BE),BE_NL)],
 LU:[ring(BE_LU,FR_LU,rev(DE_LU))],
 PL:[ring(PL_coast,PL_RU,PL_LT,PL_E,rev(SK_PL),CZ_PL,rev(DE_PL))],
 CZ:[ring(rev(DE_CZ),rev(CZ_PL),rev(CZ_SK),AT_CZ)],
 SK:[ring(rev(HU_SK),rev(SK_UA),rev(SK_PL),rev(CZ_SK),rev(AT_SK))],
 FR:[ring(FR_coastN,FR_ES,FR_med,rev(FR_IT),rev(FR_CH),rev(DE_FR),rev(FR_LU),rev(FR_BE)),closed(corsica)],
 AT:[ring(rev(DE_AT),rev(AT_CZ),rev(AT_SK),AT_HU,rev(AT_SI),rev(AT_IT),CH_AT)],
 HU:[ring(HU_SK,AT_HU,HU_SI,rev(HU_HR),rev(HU_RS),rev(HU_RO),rev(HU_UA))],
 RO:[ring(RO_N,BG_RO,RO_RS,rev(HU_RO))],
 SI:[ring(AT_SI,HU_SI,SI_HR,rev(IT_SI))],
 HR:[ring(HU_HR,SI_HR,HR_coast,rev(HR_ME),rev(HR_BA),rev(HR_RS))],
 BG:[ring(rev(BG_RO),BG_coast,rev(BG_TR),rev(BG_EL),rev(MK_BG),BG_RS)],
 IT:[ring(CH_IT,AT_IT,IT_SI,rev(IT_coast),rev(FR_IT)),closed(sicily),closed(sardinia)],
 PT:[ring(ES_PT,PT_coast)],
 ES:[ring(ES_coastN,FR_ES,ES_med,rev(ES_PT)),closed(mallorca),closed(menorca),closed(ibiza)],
 EL:[ring(MK_EL,BG_EL,EL_TR,EL_coast,rev(AL_EL)),closed(peloponnese),closed(evia),closed(crete),closed(lesvos),closed(chios),closed(rhodes),closed(limnos),closed(corfu),closed(kefalonia),closed(zakynthos),closed(thasos)],
 CY:[closed(cyprus)],
 MT:[closed(malta)],
 CH:[ring(DE_CH,rev(CH_AT),rev(CH_IT),rev(FR_CH))],
 RS:[ring(rev(RO_RS),rev(BG_RS),rev(MK_RS),rev(AL_RS),rev(ME_RS),rev(BA_RS),rev(HR_RS),rev(HU_RS))],
 BA:[ring(BA_RS,BA_ME,rev(HR_BA))],
 ME:[ring(ME_RS,ME_AL,ME_coast,rev(HR_ME),rev(BA_ME))],
 MK:[ring(rev(AL_MK),MK_RS,MK_BG,rev(MK_EL))],
 AL:[ring(rev(ME_AL),AL_RS,AL_MK,AL_EL,AL_coast)],
 TR:[ring(TR_coastN,TR_E,TR_coastS),ring(BG_TR,TR_thrace,rev(EL_TR))]
};
const poly=rs=>({type:"MultiPolygon",coordinates:rs.map(r=>[r])});
const borderArcs=[FR_ES,ES_PT,FR_BE,FR_LU,BE_LU,DE_LU,DE_BE,BE_NL,DE_NL,DE_FR,DE_CH,DE_AT,DE_CZ,DE_PL,DE_DK,FR_CH,FR_IT,CH_IT,CH_AT,AT_IT,AT_SI,HU_SI,SI_HR,IT_SI,AT_HU,AT_SK,AT_CZ,CZ_SK,CZ_PL,SK_PL,SK_UA,HU_SK,HU_UA,HU_RO,HU_RS,HU_HR,HR_RS,HR_BA,HR_ME,BA_RS,BA_ME,ME_RS,ME_AL,AL_RS,AL_MK,AL_EL,MK_RS,MK_BG,MK_EL,BG_RS,BG_RO,RO_RS,BG_EL,BG_TR,EL_TR,PL_RU,PL_LT,PL_E,LT_LV,LT_E,LT_RU,EE_LV,LV_E,EE_E,NO_SE,NO_FI,NO_RU,SE_FI,FI_RU,IE_UK,TR_E,RO_N];

// ---- drawing ----
const W=1870,H=1778,k=W/1568;
const svg=d3.select("#map");
const grey="#e5e5e5", coast="#9c9c9c";
const projection=d3.geoIdentity().scale(k);
const path=d3.geoPath(projection);
const colour=d3.scaleThreshold().domain(classBreaks).range(classColours);
const valueByCode=new Map(countryCodes.map((c,i)=>[c,countryValues[i]]));

svg.append("defs").append("clipPath").attr("id","frame").append("rect").attr("x",0).attr("y",176.5).attr("width",1868).attr("height",1416);
const map=svg.append("g").attr("clip-path","url(#frame)");

map.append("path").datum(poly([closed(eastLand)])).attr("d",path).attr("fill",grey).attr("stroke",coast).attr("stroke-width",1);
map.append("path").datum(poly([closed(northAfrica)])).attr("d",path).attr("fill",grey).attr("stroke",coast).attr("stroke-width",1);
map.append("path").datum({type:"MultiLineString",coordinates:outsideBorders}).attr("d",path).attr("fill","none").attr("stroke","#fff").attr("stroke-width",1.6);
map.append("path").datum(poly([closed(blackSea),closed(azovSea),closed(caspianSea)])).attr("d",path).attr("fill","#fff").attr("stroke",coast).attr("stroke-width",1);

const allCodes=countryCodes.concat(noDataCodes);
map.selectAll("path.country").data(allCodes).join("path").attr("class","country")
  .attr("d",c=>path(poly(shapes[c])))
  .attr("fill",c=>valueByCode.has(c)?colour(valueByCode.get(c)):grey)
  .attr("stroke",coast).attr("stroke-width",1.1).attr("stroke-linejoin","round");

map.append("path").datum(poly([closed(limfjord)])).attr("d",path).attr("fill","#fff").attr("stroke",coast).attr("stroke-width",1);
map.append("path").datum(poly([closed(andorra)])).attr("d",path).attr("fill",grey).attr("stroke","#111").attr("stroke-width",1);
map.append("path").datum({type:"LineString",coordinates:kosovoLine}).attr("d",path).attr("fill","none").attr("stroke","#a5a5a5").attr("stroke-width",1.1);
map.append("path").datum({type:"MultiLineString",coordinates:borderArcs}).attr("d",path).attr("fill","none").attr("stroke","#0c0c0c").attr("stroke-width",1.9).attr("stroke-linejoin","round").attr("stroke-linecap","round");
map.append("path").datum({type:"MultiPoint",coordinates:smallIslands}).attr("d",d3.geoPath(projection).pointRadius(1.3)).attr("fill","#b9c6d3").attr("stroke","#858585").attr("stroke-width",1);
map.append("path").datum({type:"MultiPoint",coordinates:enclaveDots}).attr("d",d3.geoPath(projection).pointRadius(2.4)).attr("fill","#111");

// labels
svg.append("g").selectAll("text").data(labelCodes).join("text")
  .attr("transform",(c,i)=>{const p=projection(labelAnchors[i]);return `translate(${p[0]},${p[1]})`;})
  .attr("text-anchor","middle").attr("dy","0.36em")
  .attr("font-family","'Open Sans'").attr("font-weight",600).attr("font-size",20.5)
  .attr("letter-spacing",-0.9)
  .attr("fill","#222").attr("stroke","rgba(255,255,255,0.72)").attr("stroke-width",2.4).attr("paint-order","stroke")
  .text(c=>c);

// legend
const legendY=d3.scaleBand().domain(legendLabels).range([591,882]);
const legend=svg.append("g");
legend.selectAll("rect").data(legendLabels).join("rect")
  .attr("x",1337.5).attr("y",d=>legendY(d)).attr("width",62).attr("height",legendY.bandwidth())
  .attr("fill",(d,i)=>legendColours[i]).attr("stroke","#3a3a3a").attr("stroke-opacity",0.75).attr("stroke-width",1);
legend.selectAll("text").data(legendLabels).join("text")
  .attr("x",1417).attr("y",d=>legendY(d)+24.5)
  .attr("font-family","'Open Sans'").attr("font-size",27).attr("letter-spacing",-0.05).attr("fill","#555")
  .text(d=>d);

// credits
const creditY=d3.scalePoint().domain(creditLines).range([1623,1657]);
svg.append("g").selectAll("text").data(creditLines).join("text")
  .attr("x",1066).attr("y",d=>creditY(d))
  .attr("font-family","'Open Sans'").attr("font-size",25).attr("letter-spacing",-0.15).attr("fill","#555")
  .text(d=>d);
</script></body></html>
